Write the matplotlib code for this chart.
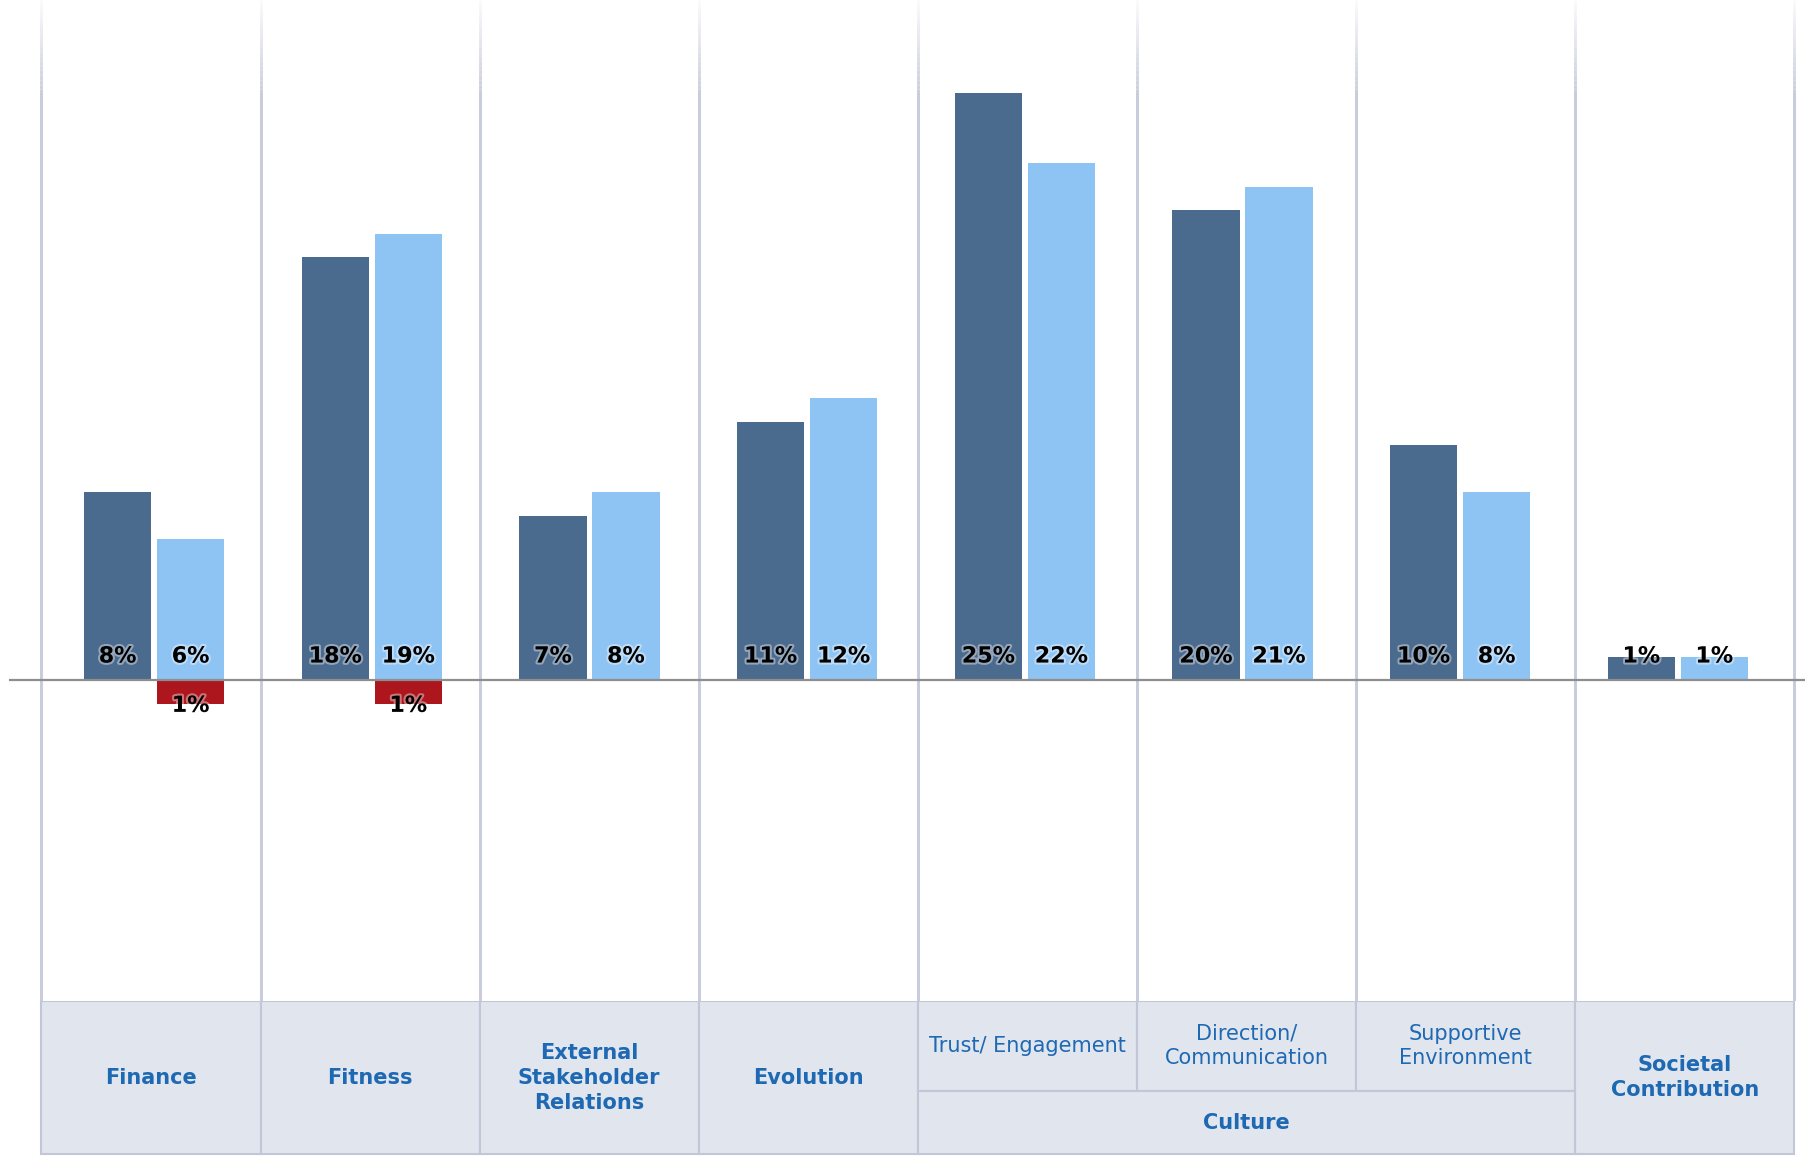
import matplotlib.pyplot as plt
import matplotlib.patheffects as pe
from matplotlib.patches import Rectangle
import numpy as np

# data
categories = ['Finance', 'Fitness', 'External\nStakeholder\nRelations', 'Evolution',
              'Trust/ Engagement', 'Direction/\nCommunication', 'Supportive\nEnvironment',
              'Societal\nContribution']
bold_label = [True, True, True, True, False, False, False, True]
series_a = [8, 18, 7, 11, 25, 20, 10, 1]
series_b = [6, 19, 8, 12, 22, 21, 8, 1]
negative_b = [-1, -1, 0, 0, 0, 0, 0, 0]
group_label = 'Culture'
group_cols = [4, 5, 6]

dark = '#4A6A8E'
light = '#8EC4F3'
red = '#AC161C'
grid_c = '#C8CBDB'
cell_bg = '#E1E5EE'
cell_edge = '#C2C6D6'
txt_c = '#1E69B3'

fig = plt.figure(figsize=(18.06, 11.56), dpi=100)
ax = fig.add_axes([0.0051, 0.1341, 0.9949, 0.8659])
ax.set_xlim(-0.647, 7.553)
ax.set_ylim(-13.66, 28.94)
ax.axis('off')

# bar groups sit on a slightly tighter pitch than the table columns
x = np.arange(len(categories))
pitch = 0.9934
xa = -0.152 + pitch * x
xb = 0.181 + pitch * x
w = 0.307
ax.bar(xa, series_a, w, color=dark, zorder=2)
ax.bar(xb, series_b, w, color=light, zorder=2)
neg = np.array(negative_b)
m = neg < 0
ax.bar(xb[m], neg[m], w, color=red, zorder=2)

glow = [pe.withStroke(linewidth=3, foreground='white', alpha=0.4)]
lbl = dict(ha='center', va='center', fontsize=16, fontweight='bold',
           color='black', path_effects=glow, zorder=4)
for i in range(len(categories)):
    ax.text(xa[i], 1.0, f'{series_a[i]}%', **lbl)
    ax.text(xb[i], 1.0, f'{series_b[i]}%', **lbl)
for xi, v in zip(xb[m], neg[m]):
    ax.text(xi, -1.1, f'{abs(v)}%', **lbl)

ax.axhline(0, color='#8E8E8E', lw=1.6, zorder=3)

# column dividers, fading out toward the top
top = 28.94
for xv in np.arange(-0.5, len(categories)):
    ax.plot([xv, xv], [-13.66, top - 4], color=grid_c, lw=2.1, zorder=1)
    steps = np.linspace(top - 4, top, 21)
    for k in range(20):
        ax.plot([xv, xv], [steps[k], steps[k + 1]], color=grid_c, lw=2.1,
                alpha=1 - 0.9 * (k + 1) / 20, zorder=1, solid_capstyle='butt')

# category table
tax = fig.add_axes([0.0051, 0.0, 0.9949, 0.1341])
tax.set_xlim(-0.647, 7.553)
tax.set_ylim(0, 1)
tax.axis('off')
bot, mid = 0.01, 0.419
for i, lab in enumerate(categories):
    if i in group_cols:
        tax.add_patch(Rectangle((i - 0.5, mid), 1, 1 - mid, facecolor=cell_bg,
                                edgecolor=cell_edge, lw=1.5))
        ty = (mid + 1) / 2
    else:
        tax.add_patch(Rectangle((i - 0.5, bot), 1, 1 - bot, facecolor=cell_bg,
                                edgecolor=cell_edge, lw=1.5))
        ty = (bot + 1) / 2
    tax.text(i, ty, lab, ha='center', va='center', fontsize=15, color=txt_c,
             fontweight='bold' if bold_label[i] else 'normal', linespacing=1.3)
g0, g1 = min(group_cols), max(group_cols)
tax.add_patch(Rectangle((g0 - 0.5, bot), g1 - g0 + 1, mid - bot, facecolor=cell_bg,
                        edgecolor=cell_edge, lw=1.5))
tax.text((g0 + g1) / 2, (bot + mid) / 2, group_label, ha='center', va='center',
         fontsize=15, color=txt_c, fontweight='bold')

fig.savefig('out.png', dpi=100)
